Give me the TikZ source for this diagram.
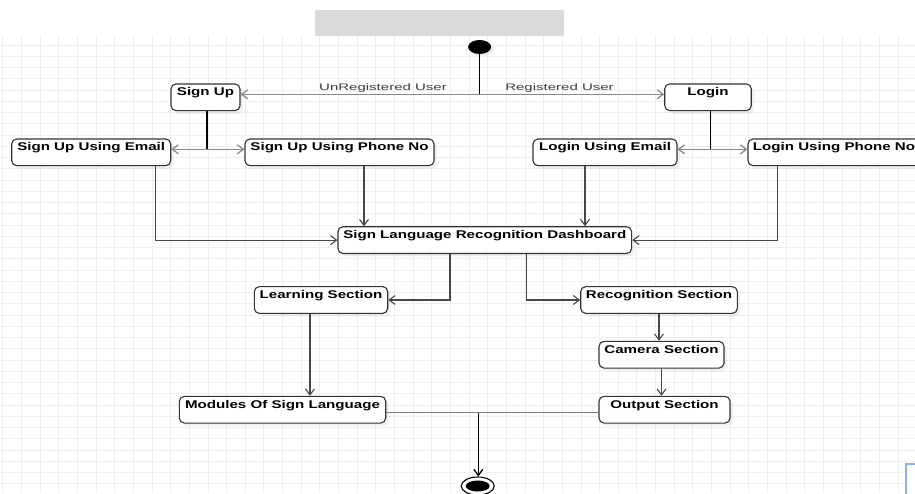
\documentclass[tikz,border=0pt]{standalone}
\usepackage{fontspec}
\usetikzlibrary{arrows.meta,shadows,shapes.geometric}
\newfontfamily\boxfont[FakeStretch=1.35]{Liberation Sans}
\newfontfamily\labelfont[FakeStretch=1.58]{Liberation Sans}
\definecolor{GridGray}{HTML}{EEEEEE}
\definecolor{BannerGray}{HTML}{DADADC}
\definecolor{BoxEdge}{HTML}{333333}
\definecolor{LinkGray}{HTML}{8A8A8A}
\definecolor{FlowGray}{HTML}{474747}
\definecolor{LabelGray}{HTML}{3C3C3C}
\definecolor{ScrollBlue}{HTML}{8DB3EE}

\begin{document}
\begin{tikzpicture}[x=1pt,y=-1pt,
    state/.style={draw=BoxEdge,line width=1.1pt,rounded corners=5pt,fill=white,
      inner xsep=0pt,inner ysep=0pt,text height=11.7pt,text depth=15pt,
      font=\boxfont\bfseries\fontsize{11.2}{12}\selectfont,
      drop shadow={shadow xshift=3pt,shadow yshift=-3pt,opacity=0.12}},
    guard/.style={font=\labelfont\fontsize{9.5}{10}\selectfont,text=LabelGray,
      inner sep=0pt,anchor=base},
    startdot/.style={ellipse,fill=black,inner sep=0pt,minimum width=23pt,minimum height=14pt,
      drop shadow={shadow xshift=3pt,shadow yshift=-2pt,opacity=0.12}},
    enddot/.style={ellipse,draw=black,line width=1.1pt,fill=white,inner sep=0pt,
      minimum width=33pt,minimum height=18pt,
      path picture={\fill[black] (path picture bounding box.center) ellipse (12pt and 5.5pt);}},
    flow/.style={-{Straight Barb[length=6pt,width=9pt]},line width=1.1pt,color=FlowGray},
    branch/.style={-{Straight Barb[length=6pt,width=9pt]},line width=1.3pt,color=LinkGray},
    trunk/.style={line width=1.3pt,color=black},
    mergeline/.style={line width=1.2pt,color=LinkGray!90!black},
    gridline/.style={GridGray,line width=0.7pt}
  ]
  \useasboundingbox (0,0) rectangle (915,493);
  \clip (0,0) rectangle (915,493);

  % background grid and banner
  \foreach \gx in {0,...,49}
    \draw[gridline] ({2.7+18.65*\gx},36) -- ({2.7+18.65*\gx},493);
  \foreach \gy in {0,...,40}
    \draw[gridline] (0,{45+11.25*\gy}) -- (915,{45+11.25*\gy});
  \fill[BannerGray] (315,10) rectangle (564,36);
  \draw[ScrollBlue,line width=1.5pt,fill=white] (906,464) rectangle (930,510);

  % states
  \node[startdot] (start) at (479.6,47) {};
  \node[state,minimum width=69pt] (signup) at (205.5,97.3) {Sign Up};
  \node[state,minimum width=86.5pt] (login) at (708,97.3) {Login};

  \node[state,minimum width=159pt] (suemail) at (91.2,152.3) {Sign Up Using Email};
  \node[state,minimum width=189pt] (suphone) at (339.5,152.3) {Sign Up Using Phone No};
  \node[state,minimum width=144pt] (liemail) at (605,152.3) {Login Using Email};
  \node[state,minimum width=172pt] (liphone) at (834,152.3) {Login Using Phone No};

  \node[state,minimum width=293.7pt] (dash) at (484.8,240.1)
    {Sign Language Recognition Dashboard};

  \node[state,minimum width=133.4pt] (learn) at (321,300) {Learning Section};
  \node[state,minimum width=156.6pt] (recog) at (659,300) {Recognition Section};
  \node[state,minimum width=125pt] (camera) at (661.5,354.7) {Camera Section};
  \node[state,minimum width=206.4pt] (modules) at (282.5,409.7) {Modules Of Sign Language};
  \node[state,minimum width=131pt] (output) at (664.5,409.7) {Output Section};

  \node[enddot] (stop) at (477.7,486) {};

  % guards
  \node[guard] (unreg) at (383,90.5) {UnRegistered User};
  \node[guard] (reg) at (559.5,90.5) {Registered User};

  % forks
  \coordinate (fork) at (479.6,94.3);
  \coordinate (suFork) at (207,149.3);
  \coordinate (liFork) at (710.6,149.3);
  \coordinate (merge) at (478.3,412.7);

  \draw[trunk] (start) -- (fork);
  \draw[branch] (fork) -- (fork -| signup.east);
  \draw[branch] (fork) -- (fork -| login.west);

  \draw[trunk] (suFork |- signup.south) -- (suFork);
  \draw[branch] (suFork) -- (suFork -| suemail.east);
  \draw[branch] (suFork) -- (suFork -| suphone.west);

  \draw[trunk] (liFork |- login.south) -- (liFork);
  \draw[branch] (liFork) -- (liFork -| liemail.east);
  \draw[branch] (liFork) -- (liFork -| liphone.west);

  % into the dashboard
  \draw[flow] ([xshift=64]suemail.south) |- (dash.west);
  \draw[flow] ([xshift=24.5]suphone.south) -- ([xshift=24.5]suphone.south |- dash.north);
  \draw[flow] ([xshift=-20]liemail.south) -- ([xshift=-20]liemail.south |- dash.north);
  \draw[flow] ([xshift=-56.7]liphone.south) |- (dash.east);

  % sections
  \draw[flow] ([xshift=-34.8]dash.south) |- (learn.east);
  \draw[flow] ([xshift=41.9]dash.south) |- (recog.west);
  \draw[flow] (recog.south) -- (recog.south |- camera.north);
  \draw[flow] (camera.south) -- (camera.south |- output.north);
  \draw[flow] ([xshift=-11]learn.south) -- ([xshift=-11]learn.south |- modules.north);

  % final merge
  \draw[mergeline] ([yshift=-3]modules.east) -- ([yshift=-3]output.west);
  \draw[trunk,-{Straight Barb[length=6pt,width=9pt]}] (merge) -- (merge |- stop.north);
\end{tikzpicture}
\end{document}
